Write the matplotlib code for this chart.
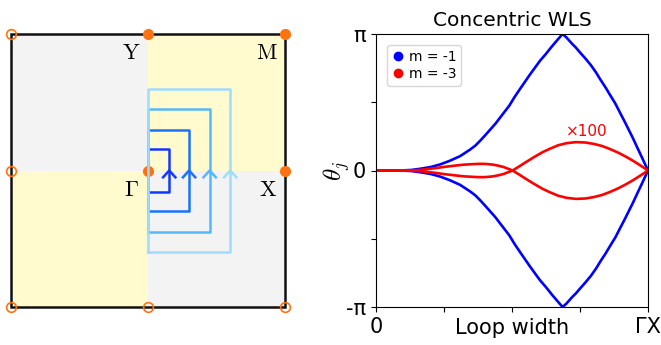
import numpy as np
from matplotlib import pyplot as plt
from matplotlib import patches
from matplotlib.lines import Line2D

plt.rcParams['mathtext.fontset'] = 'cm'

# ---- left panel: BZ with concentric loops ----
loop_width = [0.155, 0.30, 0.45, 0.60]
loop_colors = ['#1238ff', '#1a72ff', '#55b8fa', '#9fdcff']
bz_filled = [(0, 1), (1, 1), (0, 0), (1, 0)]
bz_open = [(-1, 1), (-1, 0), (-1, -1), (0, -1), (1, -1)]
hs_labels = ['Y', 'M', r'\Gamma', 'X']
hs_pos = [(-0.124, 0.86), (0.87, 0.86), (-0.117, -0.14), (0.88, -0.14)]

# ---- right panel: Wilson loop phases (units of pi) ----
w_m1 = [0, 0.05, 0.10, 0.13, 0.16, 0.20, 0.235, 0.27, 0.309, 0.345, 0.365,
        0.382, 0.40, 0.42, 0.44, 0.456, 0.475, 0.49, 0.51, 0.529, 0.547,
        0.565, 0.585, 0.603, 0.625, 0.645, 0.665, 0.686, 0.70, 0.72, 0.735,
        0.75, 0.77, 0.79, 0.81, 0.824, 0.845, 0.86, 0.88, 0.897, 0.915,
        0.93, 0.945, 0.958, 0.972, 0.986, 1.0]
th_m1_up = [0, 0, 0.001, 0.004, 0.012, 0.025, 0.044, 0.070, 0.105, 0.152, 0.182,
            0.216, 0.255, 0.300, 0.345, 0.387, 0.436, 0.475, 0.540, 0.596, 0.648,
            0.700, 0.755, 0.804, 0.855, 0.905, 0.952, 1.0, 0.975, 0.930, 0.900,
            0.865, 0.820, 0.772, 0.715, 0.669, 0.605, 0.555, 0.490, 0.424, 0.355,
            0.295, 0.235, 0.179, 0.120, 0.060, 0.0]
th_m1_dn = [0, 0, -0.001, -0.004, -0.012, -0.025, -0.044, -0.070, -0.105, -0.152, -0.182,
            -0.216, -0.255, -0.300, -0.345, -0.387, -0.436, -0.475, -0.540, -0.596, -0.648,
            -0.700, -0.755, -0.804, -0.855, -0.905, -0.952, -1.0, -0.975, -0.930, -0.900,
            -0.865, -0.820, -0.772, -0.715, -0.669, -0.605, -0.555, -0.490, -0.424, -0.355,
            -0.295, -0.235, -0.179, -0.120, -0.060, 0.0]
w_m3 = [0, 0.12, 0.14, 0.16, 0.18, 0.20, 0.225, 0.245, 0.27, 0.30, 0.325,
        0.35, 0.37, 0.392, 0.41, 0.43, 0.45, 0.47, 0.485, 0.502, 0.525,
        0.55, 0.58, 0.613, 0.64, 0.67, 0.70, 0.735, 0.77, 0.80, 0.83,
        0.858, 0.89, 0.92, 0.95, 0.975, 1.0]
th_m3_a = [0, 0, 0.002, 0.004, 0.008, 0.013, 0.019, 0.025, 0.031, 0.038, 0.043,
           0.046, 0.048, 0.049, 0.047, 0.043, 0.035, 0.025, 0.013, 0.0, -0.028,
           -0.060, -0.097, -0.135, -0.160, -0.185, -0.200, -0.208, -0.205, -0.195, -0.180,
           -0.159, -0.131, -0.100, -0.065, -0.033, 0]
th_m3_b = [0, 0, -0.002, -0.004, -0.008, -0.013, -0.019, -0.025, -0.031, -0.038, -0.043,
           -0.046, -0.048, -0.049, -0.047, -0.043, -0.035, -0.025, -0.013, 0.0, 0.028,
           0.060, 0.097, 0.135, 0.160, 0.185, 0.200, 0.208, 0.205, 0.195, 0.180,
           0.159, 0.131, 0.100, 0.065, 0.033, 0]

fig = plt.figure(figsize=(6.61, 3.45), dpi=100)

ax1 = fig.add_axes([11/661, 38/345, 274/661, 273/345])
ax1.set_xlim(-1, 1)
ax1.set_ylim(-1, 1)
ax1.axis('off')
gray, yellow = '#f3f3f3', '#fffbcf'
for (x0, y0, c) in [(-1, 0, gray), (0, 0, yellow), (-1, -1, yellow), (0, -1, gray)]:
    ax1.add_patch(patches.Rectangle((x0, y0), 1, 1, facecolor=c, edgecolor='none', zorder=0))
ax1.add_patch(patches.Rectangle((-1, -1), 2, 2, facecolor='none', edgecolor='#111111',
                                linewidth=1.8, zorder=1, clip_on=False))
orange = '#ff7212'
for (x, y) in bz_filled:
    ax1.plot(x, y, 'o', color=orange, markersize=7, zorder=2, clip_on=False)
for (x, y) in bz_open:
    ax1.plot(x, y, 'o', markerfacecolor='none', markeredgecolor=orange, markersize=7,
             markeredgewidth=1.2, zorder=2, clip_on=False)
for a, c in zip(loop_width, loop_colors):
    ax1.plot([0, a, a, 0, 0], [-a, -a, a, a, -a], color=c, lw=1.8, zorder=3)
    ax1.plot([a - 0.045, a, a + 0.045], [-0.05, 0.0, -0.05], color=c, lw=1.8, zorder=3)
for lab, (x, y) in zip(hs_labels, hs_pos):
    ax1.text(x, y, r'$\mathrm{%s}$' % lab, fontsize=16, ha='center', va='center', zorder=4)

# right panel
ax2 = fig.add_axes([376/661, 38/345, 272/661, 273/345])
ax2.plot(w_m1, th_m1_up, color='blue', lw=1.9)
ax2.plot(w_m1, th_m1_dn, color='blue', lw=1.9)
ax2.plot(w_m3, th_m3_a, color='red', lw=1.9)
ax2.plot(w_m3, th_m3_b, color='red', lw=1.9)
ax2.set_xlim(0, 1)
ax2.set_ylim(-1, 1)
ax2.set_yticks([-1, -0.5, 0, 0.5, 1])
ax2.set_yticklabels(['-π', '', '0', '', 'π'])
ax2.set_xticks([0, 0.25, 0.5, 0.75, 1])
ax2.set_xticklabels(['0', '', '', '', 'ΓX'])
ax2.tick_params(labelsize=15)
ax2.set_title('Concentric WLS', fontsize=14.5)
ax2.set_xlabel('Loop width', fontsize=15)
ax2.xaxis.set_label_coords(0.5, -0.04)
ax2.set_ylabel(r'$\theta_j$', fontsize=18)
ax2.yaxis.set_label_coords(-0.088, 0.5)
ax2.text(0.775, 0.285, '×100', color='red', fontsize=11, ha='center', va='center')

handles = [Line2D([], [], marker='o', ls='none', color='blue', markersize=6),
           Line2D([], [], marker='o', ls='none', color='red', markersize=6)]
ax2.legend(handles, ['m = -1', 'm = -3'], loc='upper left', fontsize=10,
           handlelength=0.8, handletextpad=0.4, borderpad=0.35, labelspacing=0.2,
           borderaxespad=0.8)

plt.savefig('out.png', dpi=100)
